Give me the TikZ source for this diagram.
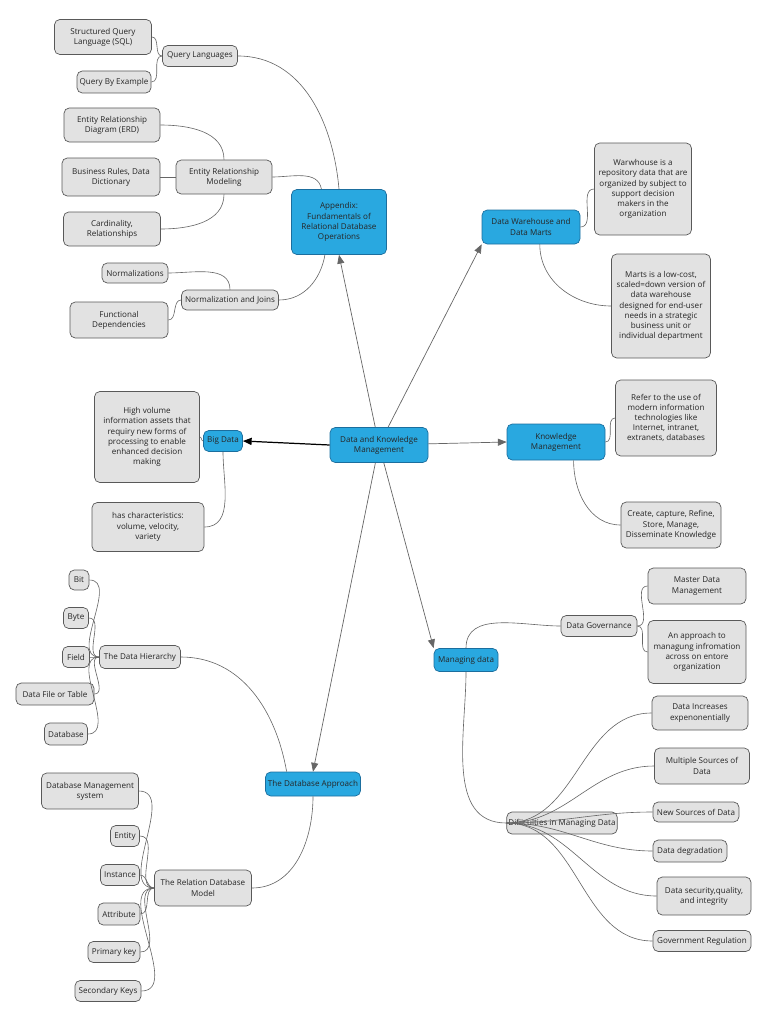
\documentclass[tikz,border=0pt]{standalone}
\usepackage{fontspec}
\setmainfont{Open Sans}
\usetikzlibrary{arrows.meta}
\definecolor{topicblue}{HTML}{29A8E0}
\definecolor{topicline}{HTML}{1B6E9E}
\definecolor{leafgray}{HTML}{E2E2E2}
\tikzset{
  sz/.style n args={2}{minimum width=#1*0.02cm, minimum height=#2*0.02cm},
  base/.style={draw, rounded corners=3pt, align=center, inner sep=1pt,
    font=\fontsize{4.6}{5.8}\selectfont, line width=0.4pt},
  topic/.style={base, fill=topicblue, draw=topicline, text=black!85},
  leaf/.style={base, fill=leafgray, draw=black!65, text=black!85},
  link/.style={draw=black!60, line width=0.35pt},
  branch/.style={draw=black!60, line width=0.4pt, -{Triangle[length=5pt,width=4pt]}}
}
\begin{document}
\begin{tikzpicture}[x=0.02cm, y=-0.02cm]
	\useasboundingbox (0,0) rectangle (768,1024);
	
	% Centre and main topics
	\node[topic, sz={98}{35}] (dkm) at (379,445) {Data and Knowledge\\Management};
	\node[topic, sz={95}{65}] (app) at (339,222) {Appendix:\\Fundamentals of\\Relational Database\\Operations};
	\node[topic, sz={98}{34}] (dw) at (531,227) {Data Warehouse and\\Data Marts};
	\node[topic, sz={98}{36}] (km) at (556,442) {Knowledge\\Management};
	\node[topic, sz={64}{23}] (md) at (466,660) {Managing data};
	\node[topic, sz={95}{24}] (dba) at (313,784) {The Database Approach};
	\node[topic, sz={39}{21}] (bd) at (223,441) {Big Data};
	
	% Appendix subtree
	\node[leaf, sz={75}{21}] (ql) at (200,56) {Query Languages};
	\node[leaf, sz={97}{35}] (sql) at (103,37) {Structured Query\\Language (SQL)};
	\node[leaf, sz={74}{22}] (qbe) at (114,82) {Query By Example};
	\node[leaf, sz={96}{34}] (erm) at (224,177) {Entity Relationship\\Modeling};
	\node[leaf, sz={96}{34}] (erd) at (112,125) {Entity Relationship\\Diagram (ERD)};
	\node[leaf, sz={98}{38}] (brd) at (111,177) {Business Rules, Data\\Dictionary};
	\node[leaf, sz={97}{34}] (card) at (112,229) {Cardinality,\\Relationships};
	\node[leaf, sz={97}{20}] (nj) at (230,300) {Normalization and Joins};
	\node[leaf, sz={66}{20}] (norm) at (135,273) {Normalizations};
	\node[leaf, sz={98}{36}] (fd) at (119,320) {Functional\\Dependencies};
	
	% Data warehouse subtree
	\node[leaf, sz={97}{92}] (wh) at (643,189) {Warwhouse is a\\repository data that are\\organized by subject to\\support decision\\makers in the\\organization};
	\node[leaf, sz={99}{104}] (marts) at (661,306) {Marts is a low-cost,\\scaled=down version of\\data warehouse\\designed for end-user\\needs in a strategic\\business unit or\\individual department};
	
	% Knowledge management subtree
	\node[leaf, sz={101}{76}] (refer) at (666,418) {Refer to the use of\\modern information\\technologies like\\Internet, intranet,\\extranets, databases};
	\node[leaf, sz={100}{46}] (ccr) at (671,525) {Create, capture, Refine,\\Store, Manage,\\Disseminate Knowledge};
	
	% Managing data subtree
	\node[leaf, sz={76}{21}] (dg) at (599,626) {Data Governance};
	\node[leaf, sz={98}{36}] (mdm) at (697,586) {Master Data\\Management};
	\node[leaf, sz={98}{63}] (appr) at (697,652) {An approach to\\managung infromation\\across on entore\\organization};
	\node[leaf, sz={101}{22}] (diff) at (562,823) {Difiiculties in Managing Data};
	\node[leaf, sz={96}{34}] (di) at (700,713) {Data Increases\\expenonentially};
	\node[leaf, sz={95}{36}] (ms) at (702,766) {Multiple Sources of\\Data};
	\node[leaf, sz={86}{20}] (ns) at (696,812) {New Sources of Data};
	\node[leaf, sz={74}{22}] (deg) at (690,851) {Data degradation};
	\node[leaf, sz={94}{38}] (sec) at (704,896) {Data security,quality,\\and integrity};
	\node[leaf, sz={98}{21}] (gov) at (702,941) {Government Regulation};
	
	% Big data subtree
	\node[leaf, sz={105}{91}] (hv) at (147,437) {High volume\\information assets that\\requiry new forms of\\processing to enable\\enhanced decision\\making};
	\node[leaf, sz={112}{49}] (char) at (148,527) {has characteristics:\\volume, velocity,\\variety};
	
	% Database approach subtree
	\node[leaf, sz={81}{23}] (dh) at (140,657) {The Data Hierarchy};
	\node[leaf, sz={20}{20}] (bit) at (79,580) {Bit};
	\node[leaf, sz={25}{21}] (byte) at (76,618) {Byte};
	\node[leaf, sz={27}{21}] (field) at (76,657) {Field};
	\node[leaf, sz={78}{22}] (dft) at (55,694) {Data File or Table};
	\node[leaf, sz={43}{22}] (db) at (66,734) {Database};
	\node[leaf, sz={97}{36}] (rdm) at (203,888) {The Relation Database\\Model};
	\node[leaf, sz={97}{36}] (dbms) at (90,791) {Database Management\\system};
	\node[leaf, sz={29}{21}] (ent) at (125,836) {Entity};
	\node[leaf, sz={39}{21}] (inst) at (120,875) {Instance};
	\node[leaf, sz={42}{22}] (attr) at (119,914) {Attribute};
	\node[leaf, sz={52}{21}] (pk) at (114,952) {Primary key};
	\node[leaf, sz={66}{21}] (sk) at (108,991) {Secondary Keys};
	
	% Main branches
	\draw[branch] (dkm) -- (app.south);
	\draw[branch] (dkm) -- (dw.south west);
	\draw[branch] (dkm) -- (km.west);
	\draw[branch] (dkm) -- (md.north west);
	\draw[branch] (dkm) -- (dba.north);
	\draw[branch, draw=black, line width=0.7pt] (dkm.west) -- (bd.east);
	
	% Appendix links
	\draw[link] (ql.east) to[out=0, in=95] (app.north);
	\draw[link] (erm.east) to[out=0, in=100] ([xshift=-10]app.north);
	\draw[link] (nj.east) to[out=0, in=-100] ([xshift=-8]app.south);
	\draw[link] (sql.east) to[out=0, in=180] (ql.west);
	\draw[link] (qbe.east) to[out=0, in=180] (ql.west);
	\draw[link] (erd.east) to[out=0, in=90] (erm.north);
	\draw[link] (brd.east) -- (erm.west);
	\draw[link] (card.east) to[out=0, in=-90] (erm.south);
	\draw[link] (norm.east) to[out=0, in=90] (nj.north);
	\draw[link] (fd.east) to[out=0, in=180] (nj.west);
	
	% Warehouse links
	\draw[link] (dw.east) to[out=0, in=180] (wh.west);
	\draw[link] ([xshift=5]dw.south) to[out=-90, in=180] (marts.west);
	
	% Knowledge links
	\draw[link] (km.east) to[out=0, in=180] (refer.west);
	\draw[link] ([xshift=10]km.south) to[out=-90, in=180] (ccr.west);
	
	% Managing data links
	\draw[link] (md.north) to[out=90, in=180] (dg.west);
	\draw[link] (md.south) to[out=-90, in=180] (diff.west);
	\draw[link] (dg.east) to[out=0, in=180] (mdm.west);
	\draw[link] (dg.east) to[out=0, in=180] (appr.west);
	\foreach \n in {di, ms, ns, deg, sec, gov}
		\draw[link] (diff.west) to[out=0, in=180] (\n.west);
	
	% Big data links
	\draw[link] (bd.west) to[out=180, in=0] (hv.east);
	\draw[link] (bd.south) to[out=-90, in=0] (char.east);
	
	% Database approach links
	\draw[link] (dh.east) to[out=0, in=100] ([xshift=-15]dba.north);
	\draw[link] (rdm.east) to[out=0, in=-90] (dba.south);
	\foreach \n in {bit, byte, field, dft, db}
		\draw[link] (\n.east) to[out=0, in=180] (dh.west);
	\foreach \n in {dbms, ent, inst, attr, pk, sk}
		\draw[link] (\n.east) to[out=0, in=180] (rdm.west);
	
\end{tikzpicture}
\end{document}
